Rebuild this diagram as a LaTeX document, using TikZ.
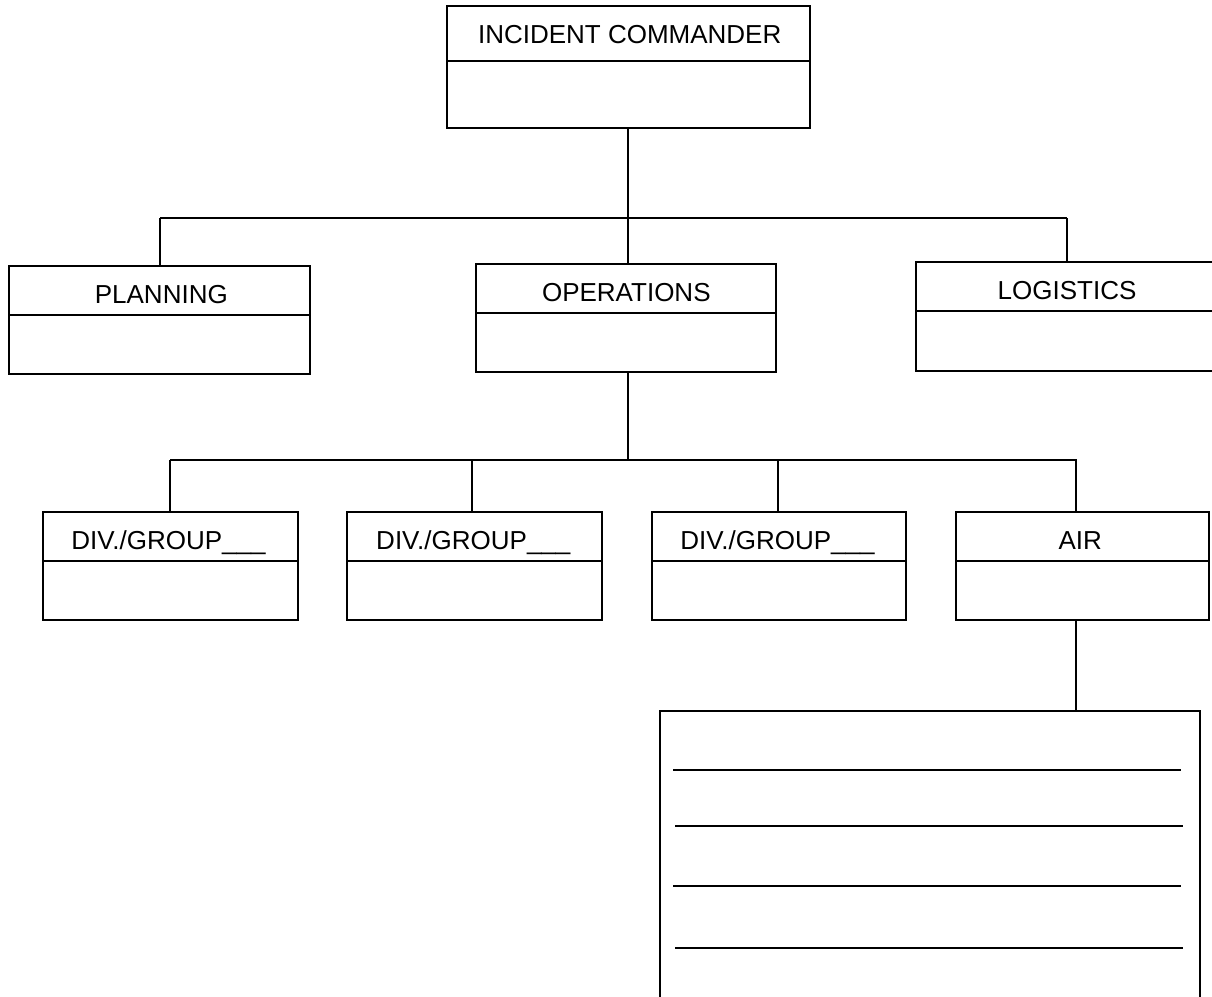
\documentclass[tikz,border=0pt]{standalone}
\usepackage{fontspec}
\setmainfont{Liberation Sans}
\begin{document}
\begin{tikzpicture}[x=1pt,y=-1pt,
  boxnode/.style={draw,line width=1.3pt,inner sep=0pt,outer sep=0pt,anchor=north west},
  sep/.style={line width=1.3pt},
  conn/.style={line width=1.3pt},
  lbl/.style={inner sep=0pt,text height=18.6pt,text depth=0pt,font=\fontsize{26}{30}\selectfont},
  rule/.style={line width=1.2pt}]
\useasboundingbox (0,0) rectangle (1212,996);
\clip (0,0) rectangle (1212,996);

% boxes
\node[boxnode,minimum width=363pt,minimum height=122pt] (ic) at (447,6) {};
\node[boxnode,minimum width=301pt,minimum height=108pt] (plan) at (9,266) {};
\node[boxnode,minimum width=300pt,minimum height=108pt] (ops) at (476,264) {};
\node[boxnode,minimum width=302pt,minimum height=109pt] (log) at (916,262) {};
\node[boxnode,minimum width=255pt,minimum height=108pt] (div1) at (43,512) {};
\node[boxnode,minimum width=255pt,minimum height=108pt] (div2) at (347,512) {};
\node[boxnode,minimum width=254pt,minimum height=108pt] (div3) at (652,512) {};
\node[boxnode,minimum width=253pt,minimum height=108pt] (air) at (956,512) {};
\node[boxnode,minimum width=540pt,minimum height=320pt] (big) at (660,711) {};

% dividers
\draw[sep] (ic.west |- 0,61) -- (ic.east |- 0,61);
\draw[sep] (plan.west |- 0,315) -- (plan.east |- 0,315);
\draw[sep] (ops.west |- 0,313) -- (ops.east |- 0,313);
\draw[sep] (log.west |- 0,311) -- (log.east |- 0,311);
\draw[sep] (div1.west |- 0,561) -- (div1.east |- 0,561);
\draw[sep] (div2.west |- 0,561) -- (div2.east |- 0,561);
\draw[sep] (div3.west |- 0,561) -- (div3.east |- 0,561);
\draw[sep] (air.west |- 0,561) -- (air.east |- 0,561);

% labels
\node[lbl] (icl) at (629.7,34.3) {INCIDENT COMMANDER};
\node[lbl] (planl) at (161.3,294.3) {PLANNING};
\node[lbl] (opsl) at (626.3,291.7) {OPERATIONS};
\node[lbl] (logl) at (1067,290) {LOGISTICS};
\node[lbl] (div1l) at (168.5,540) {DIV./GROUP\_\_\_};
\node[lbl] (div2l) at (473.3,540) {DIV./GROUP\_\_\_};
\node[lbl] (div3l) at (777.4,540) {DIV./GROUP\_\_\_};
\node[lbl] (airl) at (1080.3,540) {AIR};

% connector coordinates
\coordinate (t) at (628,128);
\coordinate (b1L) at (160,218);
\coordinate (b1M) at (628,218);
\coordinate (b1R) at (1067,218);
\coordinate (o) at (628,372);
\coordinate (b2L) at (170,460);
\coordinate (b2M) at (628,460);
\coordinate (b2a) at (472,460);
\coordinate (b2b) at (778,460);
\coordinate (b2R) at (1077,460);
\coordinate (a) at (1076,620);

% connectors
\draw[conn] (t) -- (t |- ops.north);
\draw[conn] (b1L) -- (b1R);
\draw[conn] (b1L) -- (b1L |- plan.north);
\draw[conn] (b1R) -- (b1R |- log.north);
\draw[conn] (o) -- (b2M);
\draw[conn] (b2L) -- (b2R);
\draw[conn] (b2L) -- (b2L |- div1.north);
\draw[conn] (b2a) -- (b2a |- div2.north);
\draw[conn] (b2b) -- (b2b |- div3.north);
\draw[conn] (1076,460) -- (1076,512);
\draw[conn] (a) -- (a |- big.north);

% ruled lines in the bottom box
\draw[rule] (673,770) -- (1181,770);
\draw[rule] (675,826) -- (1183,826);
\draw[rule] (673,886) -- (1181,886);
\draw[rule] (675,948) -- (1183,948);
\end{tikzpicture}
\end{document}
